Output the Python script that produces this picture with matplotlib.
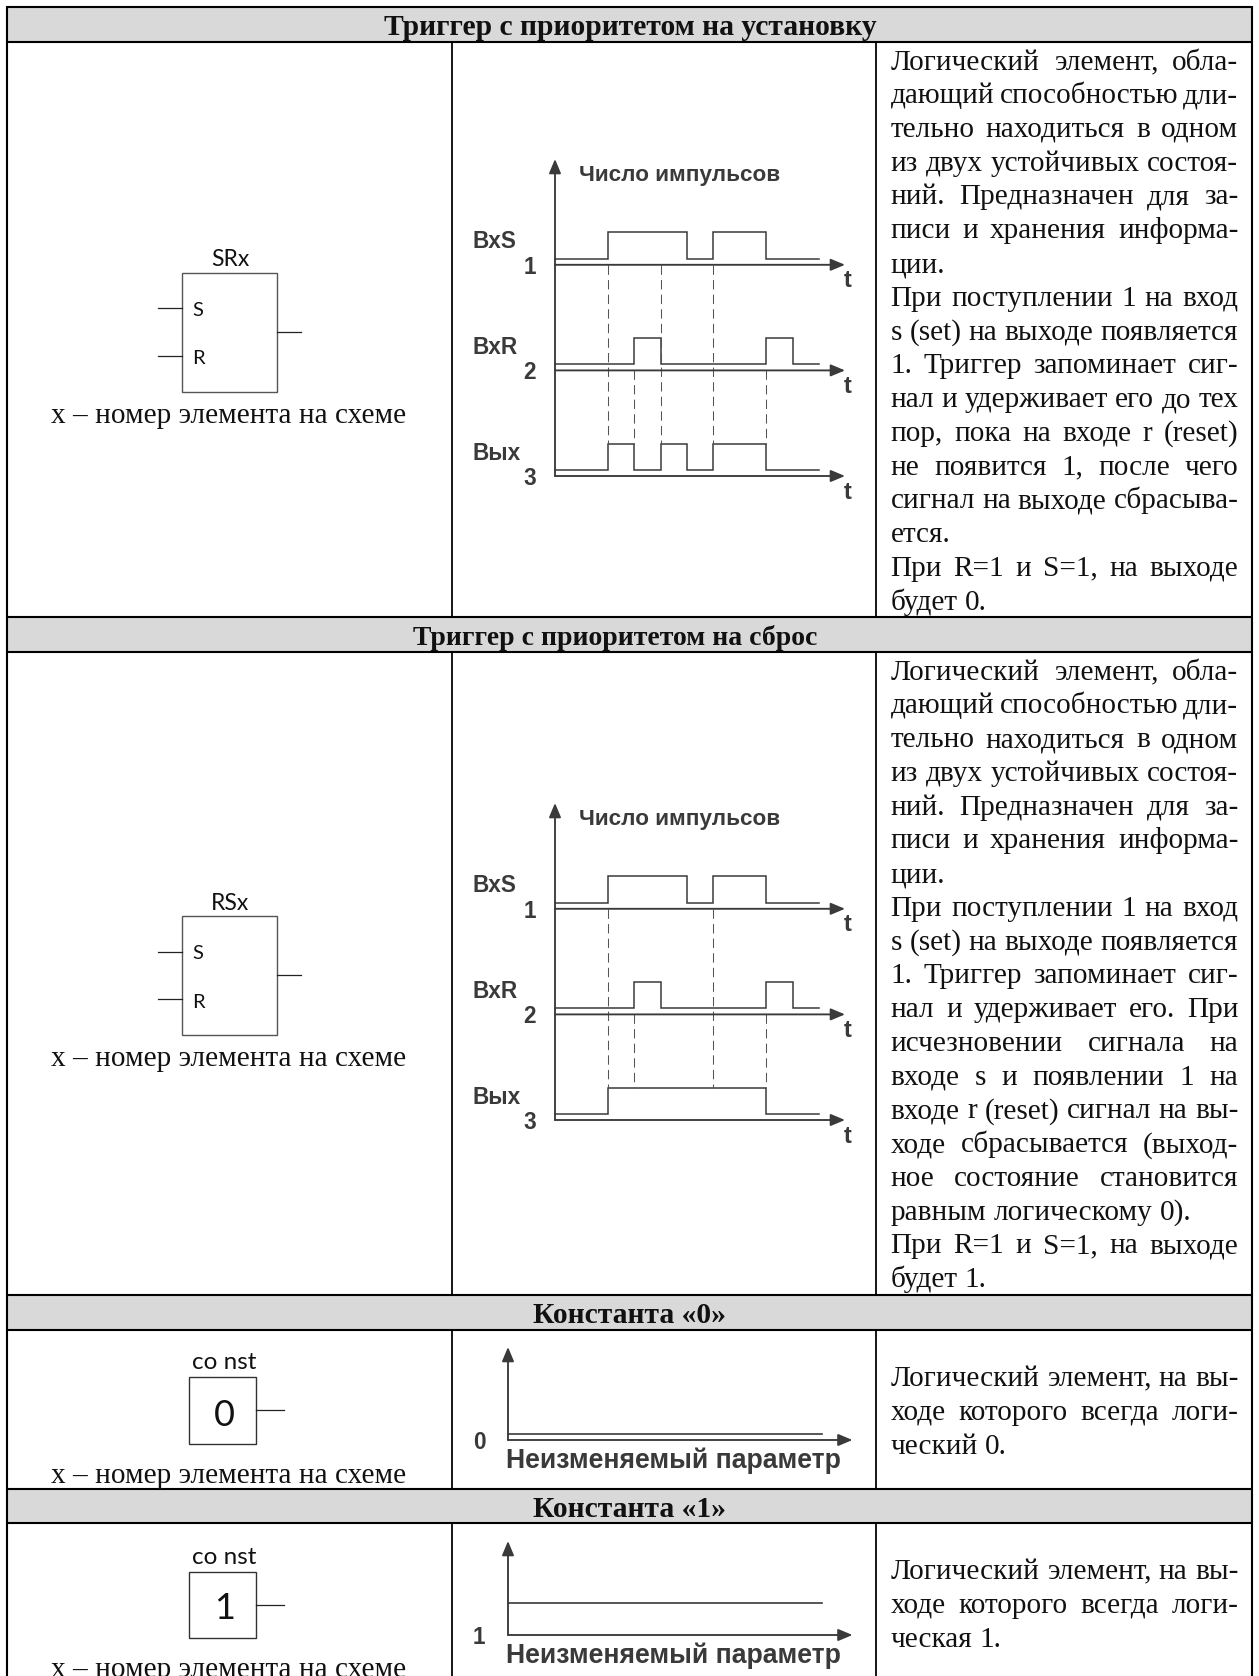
import matplotlib
matplotlib.use("Agg")
import matplotlib.pyplot as plt
from matplotlib.patches import Rectangle

W, H = 1259, 1676

# ---- data ----
headers = ["Триггер с приоритетом на установку", "Триггер с приоритетом на сброс",
           "Константа «0»", "Константа «1»"]
element_note = "x – номер элемента на схеме"
y_title = "Число импульсов"
const_title = "Неизменяемый параметр"
channel_names = ["BxS", "BxR", "Вых"]
channel_numbers = ["1", "2", "3"]

t_edges = [0, 2, 3, 4, 5, 6, 8, 9, 10]
sig_s = [0, 1, 1, 1, 0, 1, 0, 0]
sig_r = [0, 0, 1, 0, 0, 0, 1, 0]
out_set = [0, 1, 0, 1, 0, 1, 0, 0]
out_reset = [0, 1, 1, 1, 1, 1, 0, 0]

drops_set = [(2, 1, 3), (3, 2, 3), (4, 1, 3), (6, 1, 3), (8, 2, 3)]
drops_reset = [(2, 1, 3), (3, 2, 3), (6, 1, 3), (8, 2, 3)]

text_set = ["Логический элемент, обла-", "дающий способностью дли-", "тельно находиться в одном",
            "из двух устойчивых состоя-", "ний. Предназначен для за-", "писи и хранения информа-",
            "ции.", "При поступлении 1 на вход", "s (set) на выходе появляется",
            "1. Триггер запоминает сиг-", "нал и удерживает его до тех", "пор, пока на входе r (reset)",
            "не появится 1, после чего", "сигнал на выходе сбрасыва-", "ется.",
            "При R=1 и S=1, на выходе", "будет 0."]
text_reset = text_set[:10] + ["нал и удерживает его. При", "исчезновении сигнала на",
            "входе s и появлении 1 на", "входе r (reset) сигнал на вы-", "ходе сбрасывается (выход-",
            "ное состояние становится", "равным логическому 0).", "При R=1 и S=1, на выходе", "будет 1."]
text_c0 = ["Логический элемент, на вы-", "ходе которого всегда логи-", "ческий 0."]
text_c1 = ["Логический элемент, на вы-", "ходе которого всегда логи-", "ческая 1."]

# ---- style ----
SERIF = "Liberation Serif"
SANS = "Liberation Sans"
GATE = "Lato"
INK = "#3a3a3a"
BODY = 21.1
PT = 0.72

fig = plt.figure(figsize=(W / 100, H / 100), dpi=100, facecolor="white")
bg = fig.add_axes([0, 0, 1, 1])
bg.set_xlim(0, W)
bg.set_ylim(H, 0)
bg.axis("off")

# ---- table grid ----
L, C1, C2, R = 7, 452, 876, 1252.5
bands = [(7, 42), (617, 652), (1295, 1330), (1489, 1523)]
LW = 2.1 * PT
for (y0, y1) in bands:
    bg.add_patch(Rectangle((L, y0), R - L, y1 - y0, fc="#d9d9d9", ec="none", zorder=1))
    bg.plot([L, R], [y0, y0], color="black", lw=LW, zorder=3, solid_capstyle="butt")
    bg.plot([L, R], [y1, y1], color="black", lw=LW, zorder=3, solid_capstyle="butt")
for x in (L, R):
    bg.plot([x, x], [6, H], color="black", lw=LW, zorder=3, solid_capstyle="butt")
cells = [(42, 617), (652, 1295), (1330, 1489), (1523, H)]
for (y0, y1) in cells:
    for x in (C1, C2):
        bg.plot([x, x], [y0, y1], color="black", lw=LW * 0.85, zorder=3, solid_capstyle="butt")

for txt, cx, by, fs in zip(headers, [630, 615, 630, 630], [35, 645, 1323, 1517], [21.3, 20, 21.3, 21.3]):
    bg.text(cx, by, txt, ha="center", va="baseline", family=SERIF, weight="bold",
            fontsize=fs, color="#111111", zorder=4)

# ---- justified text column ----
renderer = fig.canvas.get_renderer()


def justified(lines, first_base, step, x0=890.7, x1=1238.3):
    for i, line in enumerate(lines):
        y = first_base + i * step
        words = line.split(" ")
        arts = [bg.text(0, y, w, ha="left", va="baseline", family=SERIF, fontsize=BODY,
                        color="#111111", zorder=4) for w in words]
        widths = [a.get_window_extent(renderer).width for a in arts]
        if line.endswith(".") or len(words) == 1:
            gap = 7.2
        else:
            gap = (x1 - x0 - sum(widths)) / (len(words) - 1)
        x = x0
        for a, w in zip(arts, widths):
            a.set_x(x)
            x += w + gap


justified(text_set, 69.5, 33.75)
justified(text_reset, 679.7, 33.75)
justified(text_c0, 1385.5, 34)
justified(text_c1, 1578.5, 34.3)


# ---- gate symbols ----
def sr_gate(title, dy):
    bg.add_patch(Rectangle((181.7, 272.7 + dy), 95.6, 119.3, fc="none", ec="#555555", lw=1.0, zorder=4))
    bg.plot([158, 181.7], [308.5 + dy] * 2, color="#222222", lw=0.9, zorder=4)
    bg.plot([158, 181.7], [356 + dy] * 2, color="#222222", lw=0.9, zorder=4)
    bg.plot([277.3, 301], [332.3 + dy] * 2, color="#222222", lw=0.9, zorder=4)
    bg.text(230.5, 260 + dy, title, ha="center", va="center", family=GATE, fontsize=16.5, color="#111111")
    bg.text(192.5, 310.5 + dy, "S", ha="left", va="center", family=GATE, fontsize=14.5, color="#111111")
    bg.text(192.5, 359 + dy, "R", ha="left", va="center", family=GATE, fontsize=14.5, color="#111111")
    bg.text(228.5, 422.5 + dy, element_note, ha="center", va="baseline", family=SERIF, fontsize=BODY,
            color="#111111")


def const_gate(val, y_top, y_bot, y_stub, y_title_c, y_val, y_note):
    bg.add_patch(Rectangle((189.5, y_top), 67, y_bot - y_top, fc="none", ec="#333333", lw=1.0, zorder=4))
    bg.plot([256.5, 283.6], [y_stub] * 2, color="#222222", lw=0.9, zorder=4)
    bg.text(224, y_title_c, "co nst", ha="center", va="center", family=GATE, fontsize=17.5, color="#111111")
    bg.text(224.5, y_val, val, ha="center", va="center", family=GATE, fontsize=26, color="#111111")
    bg.text(228.5, y_note, element_note, ha="center", va="baseline", family=SERIF, fontsize=BODY,
            color="#111111", clip_on=True)


sr_gate("SRx", 0)
sr_gate("RSx", 643)
const_gate("0", 1377, 1444, 1410, 1362, 1415, 1482.5)
const_gate("1", 1572, 1638, 1605, 1557, 1608, 1676.5)

# ---- timing diagrams ----
UNIT = 26.4
LOW = 0.23


def diagram_axes(px0, px1, py_top, py_bot):
    ax = fig.add_axes([px0 / W, 1 - py_bot / H, (px1 - px0) / W, (py_bot - py_top) / H])
    ax.set_xlim(0, (px1 - px0) / UNIT)
    ax.set_ylim(0, (py_bot - py_top) / UNIT)
    ax.axis("off")
    ax.patch.set_alpha(0)
    return ax


def arrow(ax, p0, p1):
    ax.annotate("", xy=p1, xytext=p0, annotation_clip=False,
                arrowprops=dict(arrowstyle="-|>,head_length=0.86,head_width=0.36", mutation_scale=10,
                                lw=1.35, color=INK, shrinkA=0, shrinkB=0))


def square(edges, levels):
    xs, ys = [], []
    for i, lv in enumerate(levels):
        xs += [edges[i], edges[i + 1]]
        ys += [lv, lv]
    return xs, ys


def timing(py_top, py_axis3, series, drops):
    ax = diagram_axes(555, 845, py_top, py_axis3)
    xmax, ymax = ax.get_xlim()[1], ax.get_ylim()[1]
    arrow(ax, (0, 0), (0, ymax))
    bases = [8, 4, 0]
    for k, (b, sig) in enumerate(zip(bases, series)):
        arrow(ax, (0, b), (xmax, b))
        xs, ys = square(t_edges, sig)
        ax.plot(xs, [b + LOW + v for v in ys], color=INK, lw=1.1, clip_on=False,
                solid_joinstyle="miter")
        ty = py_axis3 - b * UNIT
        bg.text(473, ty - 23, channel_names[k], ha="left", va="center", family=SANS, weight="bold",
                fontsize=16.3, color=INK)
        bg.text(536, ty + 2.5, channel_numbers[k], ha="right", va="center", family=SANS, weight="bold",
                fontsize=16.3, color=INK)
        bg.text(847.5, ty + 16, "t", ha="center", va="center", family=SANS, weight="bold",
                fontsize=17, color=INK)
    for t, a, c in drops:
        ax.plot([t, t], [bases[a - 1], bases[c - 1] + LOW + 1], color="#555555", lw=0.75,
                dashes=(9, 5), clip_on=False)
    bg.text(680, py_top + 16, y_title, ha="center", va="center", family=SANS, weight="bold",
            fontsize=16.2, color=INK)


timing(159, 476, [sig_s, sig_r, out_set], drops_set)
timing(803, 1120, [sig_s, sig_r, out_reset], drops_reset)


def const_plot(val, py_top, py_axis):
    ax = diagram_axes(508, 852.5, py_top, py_axis)
    xmax, ymax = ax.get_xlim()[1], ax.get_ylim()[1]
    arrow(ax, (0, 0), (0, ymax))
    arrow(ax, (0, 0), (xmax, 0))
    ax.plot([0, 11.9], [LOW + int(val)] * 2, color=INK, lw=1.2, clip_on=False)
    bg.text(479, py_axis + 2, val, ha="center", va="center", family=SANS, weight="bold",
            fontsize=16.3, color=INK)
    bg.text(506, py_axis + 21, const_title, ha="left", va="center", family=SANS, weight="bold",
            fontsize=19.2, color=INK)


const_plot("0", 1347, 1440)
const_plot("1", 1541, 1635)

fig.savefig("out.png", dpi=100, facecolor="white")
